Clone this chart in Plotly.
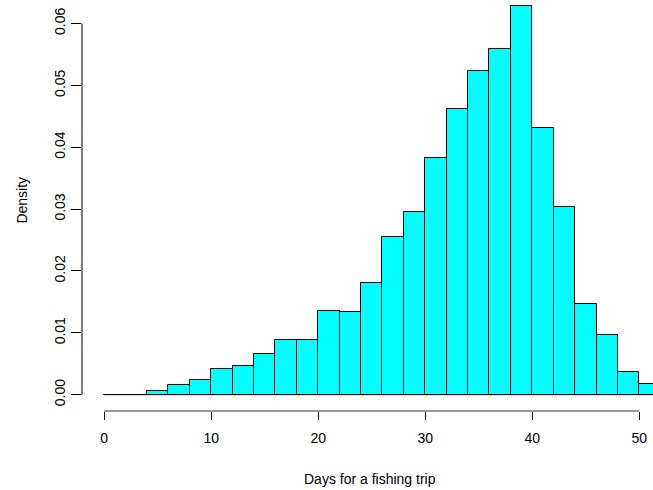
import plotly.graph_objects as go

# Histogram data (density per 2-day bin)
breaks = list(range(0, 54, 2))
densities = [0.0, 0.0, 0.0006, 0.0015, 0.0024, 0.0041, 0.0047, 0.0066, 0.0088,
             0.0089, 0.0135, 0.0134, 0.0180, 0.0255, 0.0295, 0.0383, 0.0462,
             0.0524, 0.0559, 0.0629, 0.0431, 0.0303, 0.0147, 0.0097, 0.0037,
             0.0017]
x_ticks = [0, 10, 20, 30, 40, 50]
y_ticks = [0.00, 0.01, 0.02, 0.03, 0.04, 0.05, 0.06]
y_tick_labels = ["0.00", "0.01", "0.02", "0.03", "0.04", "0.05", "0.06"]
x_title = "Days for a fishing trip"
y_title = "Density"

centers = [(a + b) / 2 for a, b in zip(breaks[:-1], breaks[1:])]
widths = [b - a for a, b in zip(breaks[:-1], breaks[1:])]

FONT = "Liberation Sans, Arial, sans-serif"

fig = go.Figure()
fig.add_trace(go.Bar(
    x=centers, y=densities, width=widths,
    marker=dict(color="#00FFFF", line=dict(color="black", width=1)),
    hoverinfo="x+y", showlegend=False,
))
# baseline under zero-height bins (R draws degenerate rectangles as lines)
fig.add_trace(go.Scatter(
    x=[breaks[0], breaks[-1]], y=[0, 0], mode="lines",
    line=dict(color="black", width=1), hoverinfo="skip", showlegend=False,
))

fig.update_layout(
    width=653, height=490,
    margin=dict(l=82, r=0, t=0, b=79),
    paper_bgcolor="white", plot_bgcolor="white",
    font=dict(family=FONT, size=14, color="black"),
    bargap=0,
    xaxis=dict(
        range=[-2.08, 51.28], showgrid=False, zeroline=False, showline=False,
        tickmode="array", tickvals=x_ticks, ticktext=[str(v) for v in x_ticks],
        ticks="outside", ticklen=8, tickwidth=1, tickcolor="black",
        tickfont=dict(family=FONT, size=14, color="black"),
        ticklabelstandoff=6,
    ),
    yaxis=dict(
        range=[-0.00264, 0.0638], showgrid=False, zeroline=False, showline=False,
        tickmode="array", tickvals=y_ticks, ticktext=y_tick_labels,
        ticks="outside", ticklen=10, tickwidth=1, tickcolor="black",
        tickangle=-90,
        tickfont=dict(family=FONT, size=14, color="black"),
    ),
    shapes=[
        dict(type="line", xref="x", yref="paper", x0=x_ticks[0], x1=x_ticks[-1],
             y0=0, y1=0, line=dict(color="#333333", width=1)),
        dict(type="line", xref="paper", yref="y", x0=0, x1=0,
             y0=y_ticks[0], y1=y_ticks[-1], line=dict(color="black", width=1)),
    ],
    annotations=[
        dict(text=x_title, xref="paper", yref="paper", x=0.5044, y=-0.165,
             xanchor="center", yanchor="middle", showarrow=False,
             font=dict(family=FONT, size=14, color="black")),
        dict(text=y_title, xref="paper", yref="paper", x=-0.105, y=0.512,
             xanchor="center", yanchor="middle", showarrow=False, textangle=-90,
             font=dict(family=FONT, size=14, color="black")),
    ],
)

fig.write_html(
    "out.html",
    config={"displayModeBar": False},
    post_script="document.body.style.margin='0';document.body.style.padding='0';"
                "document.body.style.overflow='hidden';",
)
